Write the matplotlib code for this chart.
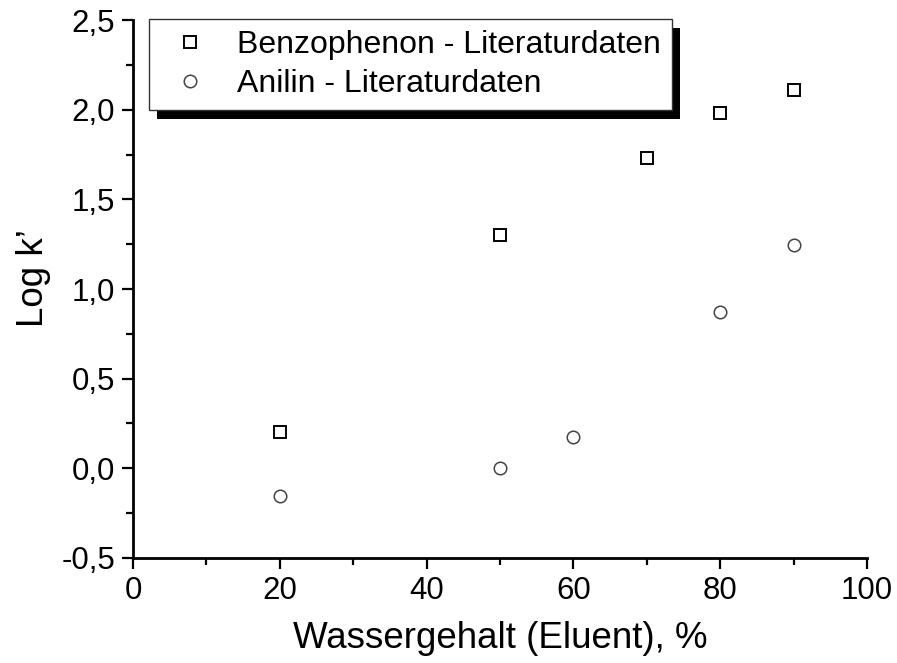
import numpy as np
import matplotlib.pyplot as plt
from matplotlib.patches import Rectangle
from matplotlib.ticker import FuncFormatter, MultipleLocator

plt.rcParams['font.family'] = ['Liberation Sans', 'DejaVu Sans']
plt.rcParams['axes.unicode_minus'] = False

# Wassergehalt in %, log k' aus der Literatur
benzo_x = [20, 50, 70, 80, 90]
benzo_y = [0.20, 1.30, 1.73, 1.98, 2.11]
anilin_x = [20, 50, 60, 80, 90]
anilin_y = [-0.155, 0.00, 0.175, 0.87, 1.245]

fig = plt.figure(figsize=(8.97, 6.63), dpi=100)
ax = fig.add_axes([0.1483, 0.1584, 0.8183, 0.8114])

ax.plot(benzo_x, benzo_y, ls='none', marker='s', ms=8.5, mfc='white',
        mec='black', mew=1.4, label='Benzophenon - Literaturdaten')
ax.plot(anilin_x, anilin_y, ls='none', marker='o', ms=9, mfc='white',
        mec='#444444', mew=1.1, label='Anilin - Literaturdaten')

ax.set_xlim(0, 100)
ax.set_ylim(-0.5, 2.5)
ax.xaxis.set_major_locator(MultipleLocator(20))
ax.xaxis.set_minor_locator(MultipleLocator(10))
ax.yaxis.set_major_locator(MultipleLocator(0.5))
ax.yaxis.set_minor_locator(MultipleLocator(0.25))
ax.yaxis.set_major_formatter(FuncFormatter(lambda v, p: f'{v:.1f}'.replace('.', ',')))

for side in ('top', 'right'):
    ax.spines[side].set_visible(False)
for side in ('left', 'bottom'):
    ax.spines[side].set_linewidth(2)

ax.tick_params(which='major', direction='out', length=8, width=1.6, labelsize=22.5, pad=5)
ax.tick_params(which='minor', direction='out', length=5, width=1.6)

ax.set_xlabel('Wassergehalt (Eluent), %', fontsize=26.5, labelpad=11)
ax.set_ylabel('Log k’', fontsize=26.5)
ax.yaxis.set_label_coords(-0.112, 0.52)

leg = ax.legend(loc='upper left', bbox_to_anchor=(0.022, 1.002), borderaxespad=0,
                fontsize=23, frameon=True, fancybox=False, framealpha=1,
                edgecolor='#333333', handlelength=1.88, handletextpad=0.53,
                labelspacing=0.28, borderpad=0.35)
leg.get_frame().set_linewidth(1.0)
leg.set_zorder(6)

# black drop shadow behind the legend box
fig.canvas.draw()
bb = leg.get_window_extent()
inv = fig.transFigure.inverted()
x0, y0 = inv.transform((bb.x0 + 8, bb.y0 - 9))
x1, y1 = inv.transform((bb.x1 + 8, bb.y1 - 9))
ax.add_patch(Rectangle((x0, y0), x1 - x0, y1 - y0, transform=fig.transFigure,
                       facecolor='black', edgecolor='none', zorder=5, clip_on=False))

fig.savefig('out.png', dpi=100)
